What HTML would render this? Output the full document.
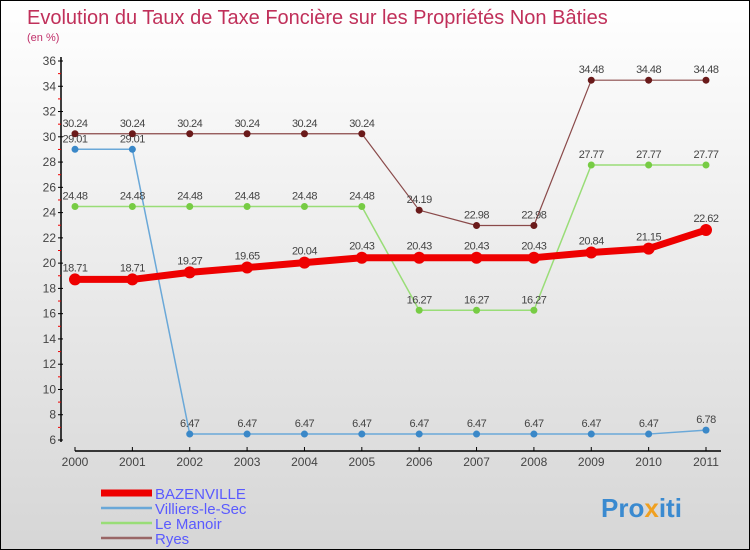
<!DOCTYPE html>
<html><head><meta charset="utf-8"><style>
body{margin:0;}
#c{width:748px;height:548px;border:1px solid #000;background:linear-gradient(#fff,#d6d6d6);position:relative;font-family:"Liberation Sans",sans-serif;overflow:hidden}
</style></head><body>
<div id="c">
<svg id="s" width="748" height="548" xmlns="http://www.w3.org/2000/svg">
<text x="26" y="23" font-size="20" fill="#c0305a">Evolution du Taux de Taxe Foncière sur les Propriétés Non Bâties</text>
<text x="26" y="40" font-size="11" fill="#c0306a">(en %)</text>
<g id="g"></g>
<text x="600" y="516" font-size="26" font-weight="bold" fill="#3a8ad0">Pro<tspan fill="#f0a020">x</tspan>iti</text>
</svg>
</div>
<script>
const years=[2000,2001,2002,2003,2004,2005,2006,2007,2008,2009,2010,2011];
const yTicks=[6,8,10,12,14,16,18,20,22,24,26,28,30,32,34,36];
const bazenville=[18.71,18.71,19.27,19.65,20.04,20.43,20.43,20.43,20.43,20.84,21.15,22.62];
const villiers=[29.01,29.01,6.47,6.47,6.47,6.47,6.47,6.47,6.47,6.47,6.47,6.78];
const manoir=[24.48,24.48,24.48,24.48,24.48,24.48,16.27,16.27,16.27,27.77,27.77,27.77];
const ryes=[30.24,30.24,30.24,30.24,30.24,30.24,24.19,22.98,22.98,34.48,34.48,34.48];
const seriesNames=["BAZENVILLE","Villiers-le-Sec","Le Manoir","Ryes"];
const NS="http://www.w3.org/2000/svg";
const g=document.getElementById('g');
const X=i=>74+i*(705-74)/11;
const Y=v=>439-(v-6)*(439-60)/30;
function mk(t,a){const e=document.createElementNS(NS,t);for(const k in a)e.setAttribute(k,a[k]);g.appendChild(e);return e;}
let e;
e=mk('line',{x1:60,y1:56,x2:60,y2:441,stroke:'#000','stroke-width':1.5});


e=mk('line',{x1:74,y1:450,x2:720,y2:450,stroke:'#000','stroke-width':1.5});


yTicks.forEach((v,i)=>{
 mk('line',{x1:57,x2:62,y1:Y(v),y2:Y(v),stroke:'#000'});
 if(i<yTicks.length-1) mk('line',{x1:57,x2:60,y1:Y(v+1),y2:Y(v+1),stroke:'#e00'});
 const t=mk('text',{x:55,y:Y(v)+4,'font-size':12,fill:'#444','text-anchor':'end'});t.textContent=v;
 
 
});
years.forEach((yr,i)=>{
 mk('line',{x1:X(i),x2:X(i),y1:446,y2:450,stroke:'#000'});
 const t=mk('text',{x:X(i),y:465,'font-size':12,fill:'#444','text-anchor':'middle'});t.textContent=yr;
 
 
});
function series(d,col,w,r,dot,name){
 const l=mk('polyline',{points:d.map((v,i)=>X(i)+','+Y(v)).join(' '),fill:'none',stroke:col,'stroke-width':w,'stroke-linejoin':'round'});
 
 
 d.forEach((v,i)=>{
  const c=mk('circle',{cx:X(i),cy:Y(v),r:r,fill:dot});
  
  
  const t=mk('text',{x:X(i),y:Y(v)-(w>4?8:7),'font-size':11,fill:'#444','text-anchor':'middle','letter-spacing':'-0.5'});t.textContent=v;
  
  
 });
}
series(villiers,'#6aa8d8',1.5,3.5,'#3a88c8','villiers');
series(manoir,'#99dd77',1.5,3.5,'#77cc44','manoir');
series(ryes,'#8a4a4a',1.2,3.5,'#6a1a1a','ryes');
series(bazenville,'#ee0000',7,6,'#ee0000','bazenville');
const legCols=['#ee0000','#6aa8d8','#99dd77','#996666'],legW=[7,2.5,2.5,2.5];
seriesNames.forEach((n,i)=>{
 const y=492+i*15;
 const l=mk('line',{x1:100,x2:151,y1:y,y2:y,stroke:legCols[i],'stroke-width':legW[i]});
 
 
 const t=mk('text',{x:154,y:y+6,'font-size':15,fill:'#5a5aff'});t.textContent=n;
 
 
});
</script>
</body></html>
